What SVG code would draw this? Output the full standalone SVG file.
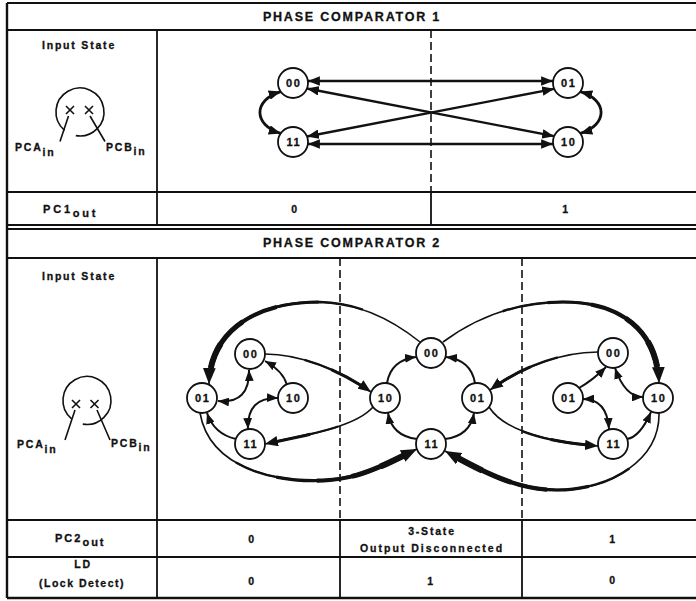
<svg xmlns="http://www.w3.org/2000/svg" width="696" height="601" viewBox="0 0 696 601">
<style>
text{font-family:"Liberation Sans",Arial,Helvetica,sans-serif;font-weight:bold;fill:#111;stroke:#111;stroke-width:0.3}
.hd{font-size:12.5px;letter-spacing:1.8px;text-anchor:middle}
.lb{font-size:10.5px;letter-spacing:1.8px}
.c{text-anchor:middle}
.nl{font-size:11px;letter-spacing:1.5px;text-anchor:middle}
.tb{stroke:#111;stroke-width:1.8;fill:none}
.ds{stroke:#111;stroke-width:1.6;stroke-dasharray:8 4;fill:none}
.nd{fill:#fff;stroke:#111;stroke-width:1.8}
.ic{fill:none;stroke:#111;stroke-width:1.6}
.e{fill:none;stroke:#111}
.e1{stroke-width:2.3;marker-start:url(#a1);marker-end:url(#a1)}
.e1c{stroke-width:2.8;marker-start:url(#a1);marker-end:url(#a1)}
.s{stroke-width:2;marker-end:url(#a)}
.sb{stroke-width:2;marker-start:url(#a);marker-end:url(#a)}
.m1{stroke-width:1.6;marker-end:url(#am)}
.m2{stroke-width:2.3;stroke-dasharray:0 35 55 10}
.m3{stroke-width:3;stroke-dasharray:0 60 30 10}
.k1{stroke-width:1.6;marker-end:url(#ab)}
.k2{stroke-width:2.4;stroke-dasharray:0 25 69 6}
.k3{stroke-width:3.2;stroke-dasharray:0 42 52 6}
.k4{stroke-width:4.1;stroke-dasharray:0 58 36 6}
.k5{stroke-width:5;stroke-dasharray:0 72 22 6}
.k6{stroke-width:6;stroke-dasharray:0 84 10 6}
</style>
<defs>
<marker id="a1" viewBox="0 0 10 8" refX="10" refY="4" markerWidth="12" markerHeight="9.6" markerUnits="userSpaceOnUse" orient="auto-start-reverse"><path d="M0,0L10,4L0,8z" fill="#111"/></marker>
<marker id="a" viewBox="0 0 10 8" refX="10" refY="4" markerWidth="11" markerHeight="8.8" markerUnits="userSpaceOnUse" orient="auto-start-reverse"><path d="M0,0L10,4L0,8z" fill="#111"/></marker>
<marker id="am" viewBox="0 0 10 8" refX="10" refY="4" markerWidth="13" markerHeight="10.4" markerUnits="userSpaceOnUse" orient="auto-start-reverse"><path d="M0,0L10,4L0,8z" fill="#111"/></marker>
<marker id="ab" viewBox="0 0 10 8" refX="10" refY="4" markerWidth="16" markerHeight="12.8" markerUnits="userSpaceOnUse" orient="auto-start-reverse"><path d="M0,0L10,4L0,8z" fill="#111"/></marker>
<path id="p1" pathLength="100" d="M420,342 C395,322 362,303 320,302 C250,302 210,335 209,384"/>
<path id="p2" pathLength="100" d="M200,413 C210,470 280,484 330,480 C365,477 390,462 417,449"/>
<path id="p3" pathLength="100" d="M443,342 C470,322 510,302 563,302 C620,302 657,330 659,383"/>
<path id="p4" pathLength="100" d="M659,413 C660,460 610,490 557,490 C515,490 480,470 445,451"/>
<path id="q1" pathLength="100" d="M265,354 C300,354 340,370 371,392"/>
<path id="q2" pathLength="100" d="M373,407 C355,428 300,436 265,444"/>
<path id="q3" pathLength="100" d="M598,352 C560,352 520,368 490,390"/>
<path id="q4" pathLength="100" d="M489,407 C505,432 550,442 598,446"/>
</defs>
<rect width="696" height="601" fill="#fff"/>

<g id="table">
<path class="tb" d="M7,3H696M7,30H696M7,192H696M7,225H696M7,229H696M7,258H696M7,520H696M7,557H696"/>
<path class="tb" style="stroke-width:2.4" d="M7,3V598M7,598H696"/>
<path class="tb" d="M157,30V225M157,258V598M431,192V225M340,520V598M522,520V598"/>
<path class="ds" d="M431,30V192M340,258V520M522,258V520"/>
</g>

<g id="texts">
<text class="hd" x="352" y="21">PHASE COMPARATOR 1</text>
<text class="hd" x="352" y="247">PHASE COMPARATOR 2</text>
<text class="lb c" x="79" y="49">Input State</text>
<text class="lb c" x="79" y="280">Input State</text>
<text class="lb" x="43" y="213" style="font-size:11px;letter-spacing:2.8px">PC1<tspan dy="4">out</tspan></text>
<text class="lb" x="55" y="542" style="font-size:11px;letter-spacing:2px">PC2<tspan dy="4">out</tspan></text>
<text class="lb c" x="83" y="568">LD</text>
<text class="lb c" x="82" y="587" style="letter-spacing:1.5px">(Lock Detect)</text>
<text class="lb c" x="295" y="213">0</text>
<text class="lb c" x="566" y="213">1</text>
<text class="lb c" x="252" y="543">0</text>
<text class="lb c" x="432" y="535">3-State</text>
<text class="lb c" x="432" y="552" style="letter-spacing:2px">Output Disconnected</text>
<text class="lb c" x="613" y="543">1</text>
<text class="lb c" x="252" y="585">0</text>
<text class="lb c" x="431" y="585">1</text>
<text class="lb c" x="613" y="584">0</text>
</g>

<g id="input-state-1">
<path class="ic" d="M64.6,130.4 A24,24 0 1 1 75.8,135.6"/>
<path class="ic" d="M66,106L74,114M74,106L66,114M85,106L93,114M93,106L85,114M68.5,116L60,141.5M90,116L105,141.5"/>
<text class="lb" x="15" y="151">PCA<tspan dy="4.5">in</tspan></text>
<text class="lb" x="106" y="151">PCB<tspan dy="3.5">in</tspan></text>
</g>

<g id="input-state-2">
<path class="ic" d="M71.6,418.9 A24,24 0 1 1 82.8,424.1"/>
<path class="ic" d="M72,400L80,408M80,400L72,408M90.5,400L98.5,408M98.5,400L90.5,408M75,410L65,440M97,410L110,440"/>
<text class="lb" x="17" y="448">PCA<tspan dy="4.5">in</tspan></text>
<text class="lb" x="111" y="447">PCB<tspan dy="3.5">in</tspan></text>
</g>

<g id="connectors">
<path class="e e1" d="M307.9,81 L553.1,81"/>
<path class="e e1" d="M306.9,88.5 L554.2,136.2"/>
<path class="e e1" d="M306.9,136.5 L554.2,88.8"/>
<path class="e e1" d="M307.9,144 L553.1,144"/>
<path class="e e1c" d="M280.7,91.6 C253,100 253,125 280.7,133.4"/>
<path class="e e1c" d="M580.3,91.6 C608,100 608,125 580.3,133.4"/>

<path class="e s" d="M287,385 Q283,371 265,361"/>
<path class="e sb" d="M249,370 Q250,404 218,401"/>
<path class="e sb" d="M278,398 Q247,397 248,429"/>
<path class="e s" d="M236,439 Q214,434 207,413"/>
<path class="e s" d="M387,383 Q391,360 416,357"/>
<path class="e s" d="M475,383 Q471,360 446,357"/>
<path class="e s" d="M417,439 Q392,436 388,413"/>
<path class="e s" d="M445,439 Q470,436 474,413"/>
<path class="e s" d="M579,388 Q593,380 606,367"/>
<path class="e sb" d="M615,368 Q625,397 643,397"/>
<path class="e sb" d="M583,399 Q607,399 609,429"/>
<path class="e s" d="M627,439 Q640,437 651,412"/>

<use href="#q1" class="e m1"/><use href="#q1" class="e m2"/><use href="#q1" class="e m3"/>
<use href="#q2" class="e m1"/><use href="#q2" class="e m2"/><use href="#q2" class="e m3"/>
<use href="#q3" class="e m1"/><use href="#q3" class="e m2"/><use href="#q3" class="e m3"/>
<use href="#q4" class="e m1"/><use href="#q4" class="e m2"/><use href="#q4" class="e m3"/>

<use href="#p1" class="e k1"/><use href="#p1" class="e k2"/><use href="#p1" class="e k3"/><use href="#p1" class="e k4"/><use href="#p1" class="e k5"/><use href="#p1" class="e k6"/>
<use href="#p2" class="e k1"/><use href="#p2" class="e k2"/><use href="#p2" class="e k3"/><use href="#p2" class="e k4"/><use href="#p2" class="e k5"/><use href="#p2" class="e k6"/>
<use href="#p3" class="e k1"/><use href="#p3" class="e k2"/><use href="#p3" class="e k3"/><use href="#p3" class="e k4"/><use href="#p3" class="e k5"/><use href="#p3" class="e k6"/>
<use href="#p4" class="e k1"/><use href="#p4" class="e k2"/><use href="#p4" class="e k3"/><use href="#p4" class="e k4"/><use href="#p4" class="e k5"/><use href="#p4" class="e k6"/>
</g>

<g id="pc1-00"><circle class="nd" cx="293" cy="83" r="15"/><text class="nl" x="293.7" y="87">00</text></g>
<g id="pc1-01"><circle class="nd" cx="568" cy="83" r="15"/><text class="nl" x="568.7" y="87">01</text></g>
<g id="pc1-11"><circle class="nd" cx="293" cy="142" r="15"/><text class="nl" x="293.7" y="146">11</text></g>
<g id="pc1-10"><circle class="nd" cx="568" cy="142" r="15"/><text class="nl" x="568.7" y="146">10</text></g>

<g id="pc2-L00"><circle class="nd" cx="250" cy="354" r="15"/><text class="nl" x="250.7" y="358">00</text></g>
<g id="pc2-L01"><circle class="nd" cx="202" cy="398" r="15"/><text class="nl" x="202.7" y="402">01</text></g>
<g id="pc2-L10"><circle class="nd" cx="293" cy="398" r="15"/><text class="nl" x="293.7" y="402">10</text></g>
<g id="pc2-L11"><circle class="nd" cx="250" cy="444" r="15"/><text class="nl" x="250.7" y="448">11</text></g>

<g id="pc2-M00"><circle class="nd" cx="431" cy="353" r="15"/><text class="nl" x="431.7" y="357">00</text></g>
<g id="pc2-M10"><circle class="nd" cx="385" cy="398" r="15"/><text class="nl" x="385.7" y="402">10</text></g>
<g id="pc2-M01"><circle class="nd" cx="477" cy="398" r="15"/><text class="nl" x="477.7" y="402">01</text></g>
<g id="pc2-M11"><circle class="nd" cx="431" cy="444" r="15"/><text class="nl" x="431.7" y="448">11</text></g>

<g id="pc2-R00"><circle class="nd" cx="613" cy="353" r="15"/><text class="nl" x="613.7" y="357">00</text></g>
<g id="pc2-R01"><circle class="nd" cx="568" cy="398" r="15"/><text class="nl" x="568.7" y="402">01</text></g>
<g id="pc2-R10"><circle class="nd" cx="658" cy="398" r="15"/><text class="nl" x="658.7" y="402">10</text></g>
<g id="pc2-R11"><circle class="nd" cx="613" cy="444" r="15"/><text class="nl" x="613.7" y="448">11</text></g>
</svg>
